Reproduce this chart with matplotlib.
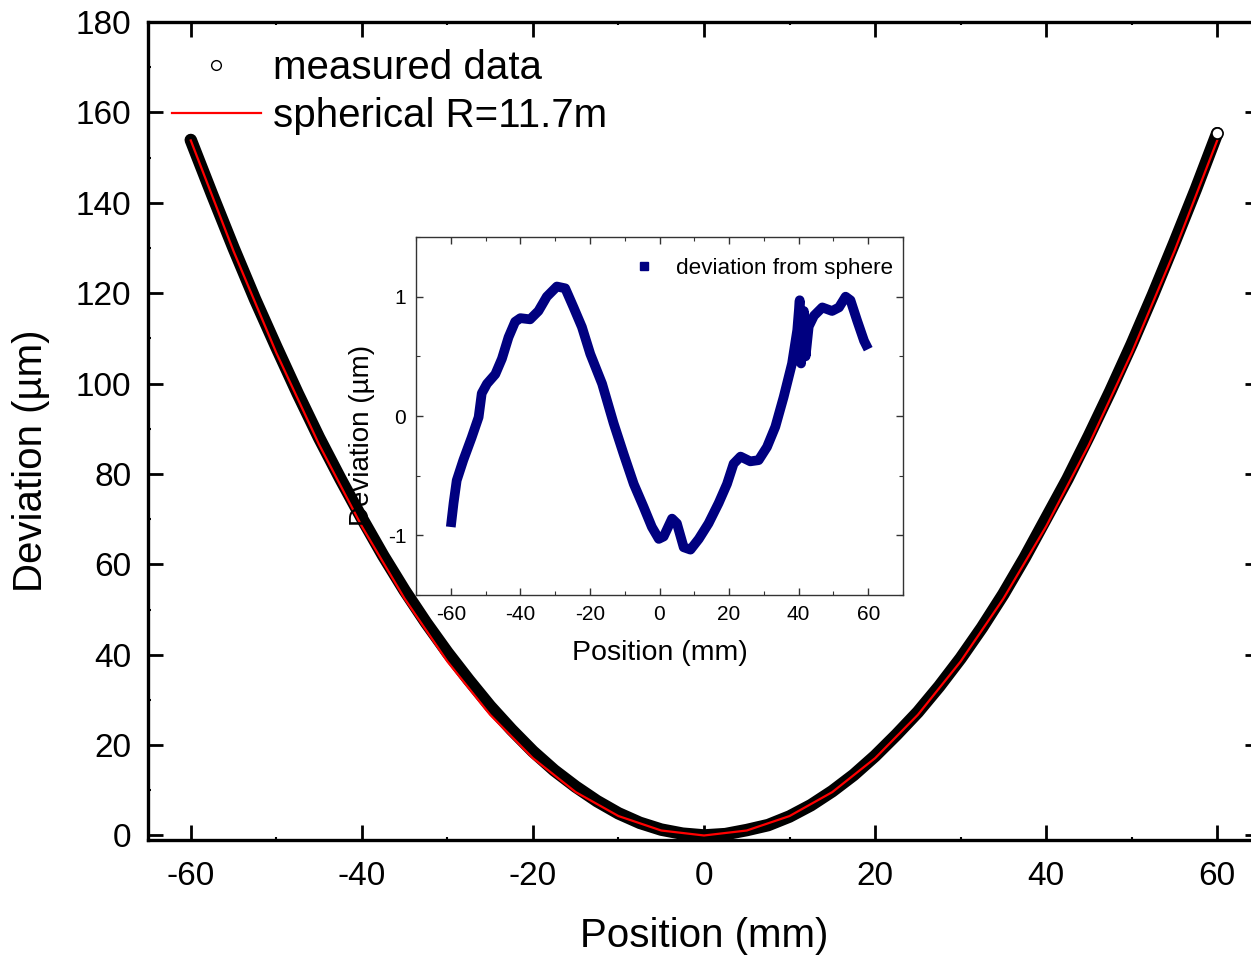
import matplotlib
matplotlib.use("Agg")
import matplotlib.pyplot as plt
from matplotlib.lines import Line2D
from matplotlib.ticker import MultipleLocator

plt.rcParams['font.family'] = ['Liberation Sans', 'DejaVu Sans']
plt.rcParams['axes.unicode_minus'] = False

# ---- main plot data ----
meas_x = [-60, -57.5, -55, -52.5, -50, -47.5, -45, -42.5, -40, -37.5, -35, -32.5,
          -30, -27.5, -25, -22.5, -20, -17.5, -15, -12.5, -10, -7.5, -5, -2.5,
          0, 2.5, 5, 7.5, 10, 12.5, 15, 17.5, 20, 22.5, 25, 27.5, 30, 32.5,
          35, 37.5, 40, 42.5, 45, 47.5, 50, 52.5, 55, 57.5, 60]
meas_y = [153.9, 141.8, 130.0, 118.7, 108.1, 97.8, 88.0, 78.9, 70.2, 61.9, 54.2, 47.1,
          40.5, 34.4, 28.6, 23.4, 18.6, 14.4, 10.8, 7.6, 4.9, 2.8, 1.3, 0.4,
          0.0, 0.3, 1.2, 2.3, 4.2, 6.7, 9.8, 13.4, 17.6, 22.3, 27.3, 33.0, 39.2, 46.0,
          53.4, 61.5, 70.2, 78.9, 88.4, 98.3, 108.7, 119.7, 131.2, 143.0, 155.4]

fit_x = [-60, -55, -50, -45, -40, -35, -30, -25, -20, -15, -10, -5, 0,
         5, 10, 15, 20, 25, 30, 35, 40, 45, 50, 55, 60]
fit_y = [153.8, 129.3, 106.8, 86.5, 68.4, 52.4, 38.5, 26.7, 17.1, 9.6, 4.3, 1.1, 0.0,
         1.1, 4.3, 9.6, 17.1, 26.7, 38.5, 52.4, 68.4, 86.5, 106.8, 129.3, 153.8]

# ---- inset data: deviation from sphere ----
dev_x = [-60, -59.2, -58.3, -56.4, -54, -52, -51.1, -49.6, -47.2, -45.3, -43.4, -41.5,
         -40, -37.2, -34.8, -32.4, -29.5, -27.1, -24.7, -22.3, -19.9, -16.5, -13.2,
         -10.3, -7.4, -4.6, -2.2, -0.2, 1.2, 3.6, 5.0, 6.95, 8.9, 11.3, 14.1, 17.0,
         19.4, 21.3, 23.3, 26.1, 28.5, 30.9, 33.3, 35.7, 38.1, 39.6, 40.3, 40.7,
         41.5, 42.0, 42.9, 44.4, 46.8, 49.6, 51.6, 53.5, 54.9, 56.8, 58.8, 60]
dev_y = [-0.93, -0.73, -0.54, -0.37, -0.18, -0.01, 0.19, 0.27, 0.35, 0.48, 0.66, 0.79,
         0.82, 0.81, 0.88, 1.0, 1.085, 1.07, 0.91, 0.745, 0.52, 0.27, -0.06,
         -0.32, -0.57, -0.76, -0.93, -1.03, -1.01, -0.86, -0.9, -1.10, -1.12, -1.03, -0.9, -0.73,
         -0.57, -0.40, -0.34, -0.38, -0.37, -0.26, -0.09, 0.16, 0.44, 0.72, 0.97, 0.44,
         0.88, 0.5, 0.75, 0.84, 0.91, 0.88, 0.91, 1.0, 0.97, 0.80, 0.63, 0.56]

main_xticks = [-60, -40, -20, 0, 20, 40, 60]
main_yticks = [0, 20, 40, 60, 80, 100, 120, 140, 160, 180]
inset_xticks = [-60, -40, -20, 0, 20, 40, 60]
inset_yticks = [-1, 0, 1]

W, H = 1251, 959
fig = plt.figure(figsize=(W / 100, H / 100), dpi=100)

# ---------------- main axes ----------------
ax = fig.add_axes([148 / W, (H - 840) / H, (1260 - 148) / W, (840 - 22) / H])
ax.set_xlim(-65, 65)
ax.set_ylim(-1, 180)

ax.plot(meas_x, meas_y, color='black', lw=9, solid_capstyle='round',
        solid_joinstyle='round', zorder=2)
ax.plot(meas_x[-1:], meas_y[-1:], linestyle='none', marker='o', ms=8,
        mfc='white', mec='black', mew=1.2, zorder=4)
ax.plot(fit_x, fit_y, color='red', lw=1.6, zorder=3)

ax.set_xticks(main_xticks)
ax.set_yticks(main_yticks)
ax.xaxis.set_minor_locator(MultipleLocator(10))
ax.yaxis.set_minor_locator(MultipleLocator(10))
ax.tick_params(which='major', direction='in', length=11, width=2,
               top=True, right=True, labelsize=24)
ax.tick_params(axis='x', which='major', pad=15)
ax.tick_params(axis='y', which='major', pad=12)
ax.tick_params(which='minor', direction='in', length=2, width=1.5,
               top=True, right=True)
for s in ax.spines.values():
    s.set_linewidth(2.4)

ax.set_xlabel('Position (mm)', fontsize=29)
ax.set_ylabel('Deviation (µm)', fontsize=29)
ax.xaxis.set_label_coords(0.5, (840 - 936) / (840 - 22), transform=ax.transAxes)
ax.xaxis.label.set_va('center')
ax.yaxis.set_label_coords((31 - 148) / (1260 - 148), (840 - 461) / (840 - 22),
                          transform=ax.transAxes)
ax.yaxis.label.set_va('center')

h1 = Line2D([], [], linestyle='none', marker='o', ms=7, mfc='white',
            mec='black', mew=1.0)
h2 = Line2D([], [], color='red', lw=1.6)
ax.legend([h1, h2], ['measured data', 'spherical R=11.7m'],
          loc='upper left', bbox_to_anchor=(0.0, 0.997),
          frameon=False, fontsize=29, handlelength=2.2,
          handletextpad=0.3, labelspacing=0.25, borderaxespad=0.2)

# ---------------- inset axes ----------------
ax2 = fig.add_axes([416 / W, (H - 595) / H, (903 - 416) / W, (595 - 237) / H])
ax2.set_xlim(-70, 70)
ax2.set_ylim(-1.5, 1.5)
ax2.plot(dev_x, dev_y, color='#000080', lw=7, solid_capstyle='butt',
         solid_joinstyle='round', zorder=2)
ax2.set_xticks(inset_xticks)
ax2.set_yticks(inset_yticks)
ax2.xaxis.set_minor_locator(MultipleLocator(10))
ax2.yaxis.set_minor_locator(MultipleLocator(0.5))
ax2.tick_params(which='major', direction='in', length=5, width=1,
                top=True, right=True, labelsize=15, pad=7, color='#333333')
ax2.tick_params(which='minor', direction='in', length=3, width=0.8,
                top=True, right=True, color='#333333')
for s in ax2.spines.values():
    s.set_linewidth(1.0)
    s.set_color('#333333')
ax2.set_xlabel('Position (mm)', fontsize=20.5)
ax2.set_ylabel('Deviation (µm)', fontsize=20)
ax2.xaxis.set_label_coords(0.5, (595 - 653) / (595 - 237), transform=ax2.transAxes)
ax2.xaxis.label.set_va('center')
ax2.yaxis.set_label_coords((362 - 416) / (903 - 416), (595 - 435) / (595 - 237),
                           transform=ax2.transAxes)
ax2.yaxis.label.set_va('center')

h3 = Line2D([], [], linestyle='none', marker='s', ms=5.5, color='#000080')
ax2.legend([h3], ['deviation from sphere'], loc='upper right',
           bbox_to_anchor=(1.012, 0.985),
           frameon=False, fontsize=16.2, handlelength=1.6, handletextpad=0.6,
           borderaxespad=0.3)

fig.savefig('out.png', dpi=100)
